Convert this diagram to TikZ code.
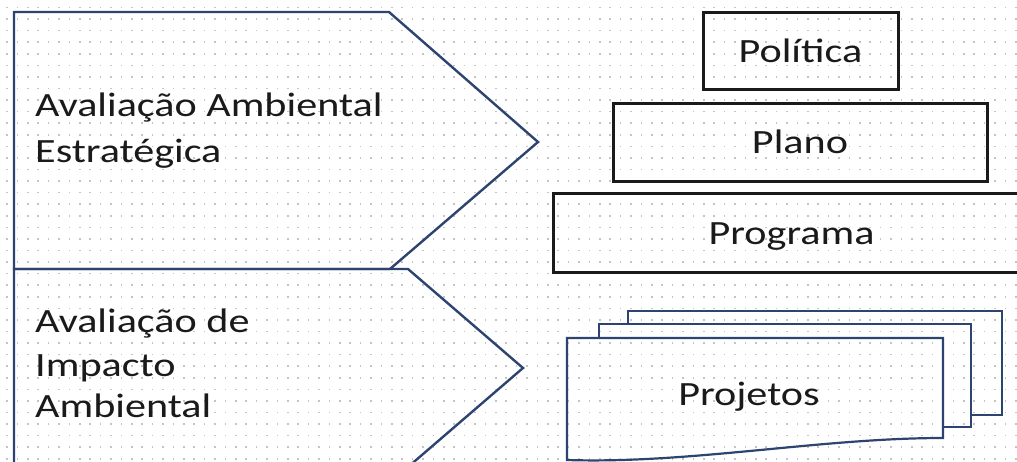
\documentclass[tikz,border=0pt]{standalone}
\usepackage{fontspec}
\usepackage{graphicx}
\setmainfont{Carlito}
\definecolor{dotc}{HTML}{C4C4C4}
\definecolor{navy}{HTML}{2E4470}
\definecolor{ink}{HTML}{1A1A1A}
\newcommand\wtxt[1]{\scalebox{1.24}[1]{#1}}
\tikzset{
  chev/.style={draw=navy, line width=2.4pt, line join=miter},
  page/.style={draw=navy, line width=2.2pt},
  lbl/.style={anchor=base west, inner sep=0pt, text=ink, font=\fontsize{34}{40}\selectfont},
  levelbox/.style={draw=ink, line width=3pt, inner sep=0pt, text=ink,
    font=\fontsize{34}{40}\selectfont, text height=22pt, text depth=0pt},
  ptxt/.style={anchor=base, inner sep=0pt, text=ink, font=\fontsize{34}{40}\selectfont}
}
\begin{document}
\begin{tikzpicture}[x=1pt, y=-1pt]
\useasboundingbox (0,0) rectangle (1017,462);
\clip (0,0) rectangle (1017,462);
\fill[white] (0,0) rectangle (1017,462);
% dotted background grid
\foreach \i in {0,...,97} {
  \foreach \j in {0,...,39} {
    \fill[dotc] ({6.1+\i*10.4},{6.7+\j*11.57}) rectangle +(1.6,1.6);
  }
}
% chevrons
\draw[chev] (14,269) -- (408,269) -- (523,368) -- (408,467) -- (14,467) -- cycle;
\draw[chev] (14,12) -- (389,12) -- (538,142) -- (390,269) -- (14,269) -- cycle;
% chevron labels
\node[lbl] (aae1) at (35,117) {\wtxt{Avaliação Ambiental}};
\node[lbl] (aae2) at (35,163) {\wtxt{Estratégica}};
\node[lbl] (aia1) at (35,332) {\wtxt{Avaliação de}};
\node[lbl] (aia2) at (35,376) {\wtxt{Impacto}};
\node[lbl] (aia3) at (35,417) {\wtxt{Ambiental}};
% level boxes
\node[levelbox, minimum width=195pt, minimum height=77pt] (pol) at (800.5,51.5) {\wtxt{Política}};
\node[levelbox, minimum width=374pt, minimum height=78pt] (pla) at (800,143) {\wtxt{Plano}};
\node[levelbox, minimum width=477pt, minimum height=79pt] (prg) at (791.5,233.5) {\wtxt{Programa}};
% stacked documents (Projetos)
\draw[page] (628,324) -- (628,311) -- (1002,311) -- (1002,415) -- (971,415);
\draw[page] (599,338) -- (599,324) -- (971,324) -- (971,427) -- (943,427);
\draw[page] (567,338) -- (943,338) -- (943,438)
  .. controls (820,438) and (690,464) .. (567,460) -- cycle;
\node[ptxt] (proj) at (749,405) {\wtxt{Projetos}};
\end{tikzpicture}
\end{document}
